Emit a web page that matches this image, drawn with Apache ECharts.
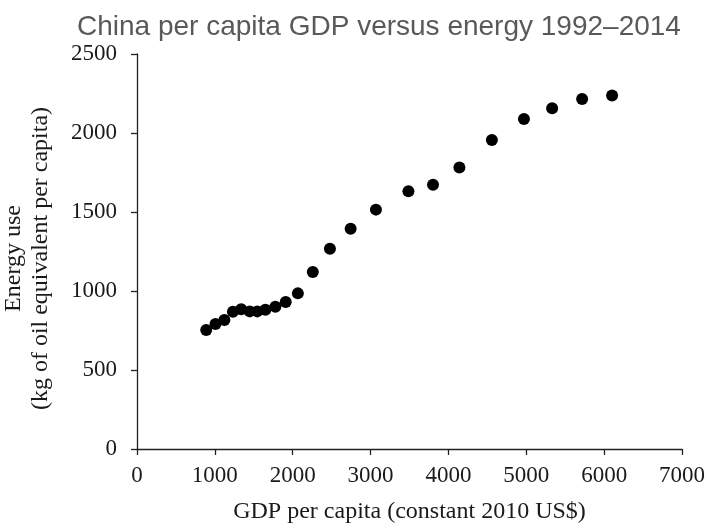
<!DOCTYPE html>
<html><head><meta charset="utf-8">
<script src="https://cdn.jsdelivr.net/npm/echarts@6/dist/echarts.min.js"></script>
<style>html,body{margin:0;padding:0;background:#fff}#c{width:709px;height:528px}</style>
</head><body><div id="c"></div>
<script>
const gdpPerCapita = [889,1008,1122,1232,1338,1448,1544,1649,1777,1910,2066,2258,2478,2744,3069,3486,3802,4141,4558,4970,5332,5717,6102];
const energyUse = [753,791,816,869,884,871,871,882,901,930,985,1120,1268,1394,1515,1631,1673,1781,1956,2089,2156,2215,2238];
const titleText = 'China per capita GDP versus energy 1992\u20132014';
const xName = 'GDP per capita (constant 2010 US$)';
const yName = 'Energy use\n(kg of oil equivalent per capita)';

const points = gdpPerCapita.map((g,i)=>[g, energyUse[i]]);
const chart = echarts.init(document.getElementById('c'), null, {renderer:'canvas'});
const serif = '"Liberation Serif", "Times New Roman", serif';
chart.setOption({
  animation:false,
  backgroundColor:'#fff',
  title:{text:titleText,left:72,top:8,textStyle:{fontFamily:'"Liberation Sans", Arial, sans-serif',fontWeight:'normal',fontSize:28,color:'#595959'}},
  grid:{left:137,right:27,top:54,bottom:79,containLabel:false,outerBoundsMode:'none'},
  xAxis:{type:'value',min:0,max:7000,interval:1000,
    name:xName,nameLocation:'middle',nameGap:51,
    nameTextStyle:{fontFamily:serif,fontSize:24,color:'#1a1a1a'},
    axisLine:{show:true,lineStyle:{color:'#222',width:1.3}},
    axisTick:{show:true,inside:false,length:6,lineStyle:{color:'#222',width:1.3}},
    axisLabel:{fontFamily:serif,fontSize:23,color:'#1a1a1a',margin:15,formatter:v=>String(v)},
    splitLine:{show:false}},
  yAxis:{type:'value',min:0,max:2500,interval:500,
    name:yName,nameLocation:'middle',nameGap:83,nameRotate:90,
    nameTextStyle:{fontFamily:serif,fontSize:24,color:'#1a1a1a',lineHeight:27,padding:[0,14,0,0]},
    axisLine:{show:true,lineStyle:{color:'#222',width:1.3}},
    axisTick:{show:true,inside:false,length:6,lineStyle:{color:'#222',width:1.3}},
    axisLabel:{fontFamily:serif,fontSize:23,color:'#1a1a1a',margin:20,formatter:v=>String(v)},
    splitLine:{show:false}},
  series:[{type:'scatter',data:points,symbol:'circle',symbolSize:12,itemStyle:{color:'#000',opacity:1}}]
});
</script></body></html>
